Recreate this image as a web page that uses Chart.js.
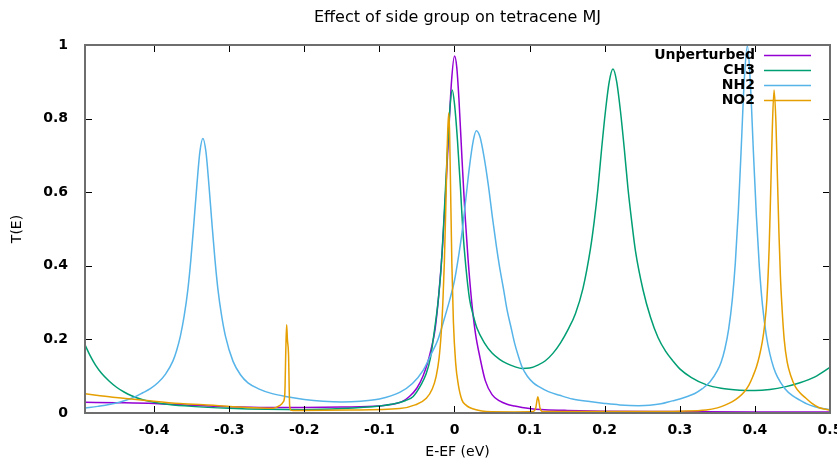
<!DOCTYPE html>
<html>
<head>
<meta charset="utf-8">
<title>Effect of side group on tetracene MJ</title>
<script src="https://cdn.jsdelivr.net/npm/chart.js@4.4.0/dist/chart.umd.min.js"></script>
<style>
  html, body { margin: 0; padding: 0; background: #ffffff; }
  #wrap { width: 837px; height: 459px; position: relative; }
</style>
</head>
<body>
<div id="wrap"><canvas id="chartTransmission"></canvas></div>
<script>
// ---- data (E - EF in eV, T(E)) ----
const seriesNames  = ['Unperturbed', 'CH3', 'NH2', 'NO2'];
const seriesColors = ['#9400d3', '#009e73', '#56b4e9', '#e69f00'];

const xTicks = [-0.4, -0.3, -0.2, -0.1, 0, 0.1, 0.2, 0.3, 0.4, 0.5];
const yTicks = [0, 0.2, 0.4, 0.6, 0.8, 1];

const unpertE = [-0.492, -0.45, -0.4, -0.35, -0.3, -0.25, -0.2, -0.15, -0.1, -0.085, -0.07, -0.06, -0.05, -0.042, -0.036, -0.031, -0.026, -0.021, -0.016, -0.012, -0.008, -0.004, 0, 0.003, 0.006, 0.01, 0.014, 0.018, 0.023, 0.028, 0.034, 0.041, 0.05, 0.06, 0.07, 0.08, 0.09, 0.105, 0.12, 0.15, 0.2, 0.3, 0.4, 0.5];
const unpertT = [0.029, 0.028, 0.026, 0.021, 0.017, 0.015, 0.015, 0.016, 0.019, 0.023, 0.031, 0.045, 0.068, 0.1, 0.135, 0.175, 0.225, 0.32, 0.45, 0.59, 0.75, 0.9, 0.97, 0.94, 0.85, 0.69, 0.54, 0.42, 0.3, 0.215, 0.15, 0.088, 0.05, 0.033, 0.024, 0.019, 0.015, 0.011, 0.009, 0.007, 0.005, 0.004, 0.003, 0.003];

const ch3E = [-0.492, -0.485, -0.478, -0.47, -0.46, -0.45, -0.44, -0.43, -0.415, -0.4, -0.38, -0.35, -0.3, -0.25, -0.2, -0.15, -0.1, -0.08, -0.065, -0.055, -0.045, -0.038, -0.032, -0.027, -0.022, -0.018, -0.014, -0.01, -0.006, -0.003, 0, 0.004, 0.008, 0.011, 0.015, 0.02, 0.025, 0.03, 0.04, 0.05, 0.06, 0.07, 0.08, 0.09, 0.1, 0.111, 0.121, 0.131, 0.141, 0.151, 0.161, 0.171, 0.181, 0.186, 0.191, 0.196, 0.201, 0.206, 0.211, 0.216, 0.221, 0.226, 0.231, 0.236, 0.241, 0.251, 0.261, 0.271, 0.281, 0.291, 0.3, 0.315, 0.335, 0.355, 0.38, 0.4, 0.42, 0.44, 0.46, 0.48, 0.5];
const ch3T = [0.185, 0.155, 0.13, 0.108, 0.087, 0.07, 0.057, 0.047, 0.036, 0.029, 0.023, 0.018, 0.013, 0.01, 0.009, 0.012, 0.019, 0.025, 0.034, 0.045, 0.075, 0.105, 0.15, 0.22, 0.3, 0.39, 0.53, 0.69, 0.83, 0.878, 0.84, 0.74, 0.61, 0.5, 0.4, 0.31, 0.265, 0.23, 0.19, 0.163, 0.146, 0.134, 0.126, 0.121, 0.122, 0.13, 0.142, 0.162, 0.19, 0.226, 0.27, 0.338, 0.446, 0.52, 0.61, 0.72, 0.82, 0.9, 0.935, 0.9, 0.82, 0.72, 0.61, 0.52, 0.44, 0.335, 0.26, 0.205, 0.168, 0.141, 0.12, 0.097, 0.077, 0.067, 0.062, 0.061, 0.064, 0.071, 0.082, 0.098, 0.124];

const nh2E = [-0.492, -0.475, -0.46, -0.445, -0.43, -0.415, -0.405, -0.395, -0.385, -0.375, -0.37, -0.365, -0.36, -0.355, -0.351, -0.347, -0.343, -0.339, -0.335, -0.331, -0.327, -0.323, -0.319, -0.315, -0.31, -0.305, -0.295, -0.285, -0.275, -0.26, -0.245, -0.225, -0.2, -0.175, -0.15, -0.125, -0.1, -0.073, -0.056, -0.042, -0.031, -0.022, -0.013, -0.006, 0, 0.005, 0.01, 0.015, 0.02, 0.025, 0.029, 0.034, 0.039, 0.045, 0.051, 0.056, 0.06, 0.065, 0.07, 0.075, 0.08, 0.085, 0.09, 0.097, 0.105, 0.113, 0.125, 0.14, 0.157, 0.18, 0.2, 0.22, 0.245, 0.26, 0.275, 0.29, 0.3, 0.31, 0.32, 0.33, 0.34, 0.35, 0.355, 0.36, 0.365, 0.37, 0.374, 0.378, 0.382, 0.386, 0.39, 0.394, 0.398, 0.402, 0.406, 0.41, 0.415, 0.42, 0.425, 0.43, 0.44, 0.45, 0.46, 0.47, 0.48, 0.49, 0.5];
const nh2T = [0.013, 0.018, 0.023, 0.03, 0.04, 0.055, 0.066, 0.082, 0.105, 0.141, 0.17, 0.209, 0.263, 0.336, 0.418, 0.516, 0.62, 0.71, 0.746, 0.71, 0.62, 0.516, 0.418, 0.336, 0.263, 0.209, 0.141, 0.104, 0.082, 0.065, 0.054, 0.045, 0.037, 0.032, 0.03, 0.032, 0.038, 0.056, 0.08, 0.115, 0.16, 0.2, 0.26, 0.31, 0.36, 0.42, 0.49, 0.58, 0.67, 0.74, 0.767, 0.75, 0.7, 0.62, 0.524, 0.45, 0.397, 0.34, 0.28, 0.235, 0.19, 0.155, 0.125, 0.1, 0.082, 0.071, 0.058, 0.048, 0.038, 0.031, 0.026, 0.022, 0.02, 0.021, 0.025, 0.033, 0.038, 0.045, 0.053, 0.066, 0.084, 0.115, 0.138, 0.174, 0.227, 0.31, 0.41, 0.55, 0.73, 0.91, 0.998, 0.895, 0.71, 0.535, 0.395, 0.295, 0.213, 0.16, 0.123, 0.098, 0.066, 0.047, 0.035, 0.024, 0.017, 0.012, 0.009];

const no2E = [-0.492, -0.455, -0.41, -0.366, -0.321, -0.277, -0.241, -0.233, -0.228, -0.226, -0.2245, -0.2235, -0.2225, -0.221, -0.2195, -0.218, -0.215, -0.206, -0.14, -0.073, -0.0525, -0.0375, -0.0295, -0.0245, -0.0205, -0.0175, -0.0155, -0.0135, -0.0115, -0.0095, -0.0085, -0.0075, -0.0065, -0.0055, -0.0035, -0.0015, 0.0015, 0.005, 0.01, 0.015, 0.02, 0.03, 0.042, 0.08, 0.105, 0.108, 0.111, 0.114, 0.117, 0.15, 0.25, 0.3, 0.335, 0.35, 0.361, 0.37, 0.379, 0.386, 0.392, 0.397, 0.402, 0.406, 0.41, 0.413, 0.416, 0.419, 0.421, 0.423, 0.4255, 0.428, 0.43, 0.432, 0.434, 0.436, 0.439, 0.443, 0.448, 0.454, 0.46, 0.468, 0.476, 0.485, 0.492, 0.5];
const no2T = [0.052, 0.043, 0.034, 0.026, 0.021, 0.015, 0.013, 0.02, 0.03, 0.05, 0.18, 0.24, 0.2, 0.16, 0.02, 0.008, 0.007, 0.007, 0.008, 0.012, 0.022, 0.04, 0.066, 0.099, 0.15, 0.223, 0.3, 0.41, 0.565, 0.735, 0.79, 0.815, 0.76, 0.645, 0.405, 0.25, 0.137, 0.078, 0.035, 0.022, 0.015, 0.008, 0.004, 0.003, 0.004, 0.012, 0.044, 0.012, 0.004, 0.004, 0.004, 0.005, 0.008, 0.014, 0.022, 0.031, 0.044, 0.058, 0.076, 0.098, 0.125, 0.155, 0.195, 0.24, 0.31, 0.45, 0.6, 0.76, 0.878, 0.79, 0.64, 0.49, 0.37, 0.29, 0.2, 0.138, 0.1, 0.071, 0.055, 0.04, 0.026, 0.015, 0.011, 0.008];

const toPoints = (xs, ys) => xs.map((x, i) => ({ x, y: ys[i] }));
const seriesData = [
    toPoints(unpertE, unpertT),
    toPoints(ch3E, ch3T),
    toPoints(nh2E, nh2T),
    toPoints(no2E, no2T)
];

// gnuplot style frame: border + inward ticks on all four sides
const framePlugin = {
    id: 'frame',
    afterDatasetsDraw(chart) {
        const { ctx, chartArea: a, scales } = chart;
        const len = 7;
        ctx.save();
        ctx.strokeStyle = '#000000';
        ctx.lineWidth = 1;
        ctx.beginPath();
        xTicks.forEach(v => {
            const px = Math.round(scales.x.getPixelForValue(v)) + 0.5;
            ctx.moveTo(px, a.bottom); ctx.lineTo(px, a.bottom - len);
            ctx.moveTo(px, a.top); ctx.lineTo(px, a.top + len);
        });
        yTicks.forEach(v => {
            const py = Math.round(scales.y.getPixelForValue(v)) + 0.5;
            ctx.moveTo(a.left, py); ctx.lineTo(a.left + len, py);
            ctx.moveTo(a.right, py); ctx.lineTo(a.right - len, py);
        });
        ctx.stroke();
        ctx.strokeStyle = '#6e6e6e';
        ctx.lineWidth = 2;
        ctx.strokeRect(a.left, a.top, a.right - a.left, a.bottom - a.top);
        ctx.restore();
    }
};

// key in the top right corner: text right aligned, sample line after it
const keyPlugin = {
    id: 'key',
    afterDatasetsDraw(chart) {
        const { ctx } = chart;
        ctx.save();
        ctx.font = 'bold 14px "DejaVu Sans"';
        ctx.textAlign = 'right';
        ctx.textBaseline = 'middle';
        chart.data.datasets.forEach((ds, i) => {
            const y = 55 + i * 15;
            ctx.fillStyle = '#000000';
            ctx.fillText(ds.label, 755, y);
            ctx.strokeStyle = ds.borderColor;
            ctx.lineWidth = 1.5;
            ctx.beginPath();
            ctx.moveTo(764, y + 0.5);
            ctx.lineTo(811, y + 0.5);
            ctx.stroke();
        });
        ctx.restore();
    }
};

Chart.defaults.font.family = '"DejaVu Sans", sans-serif';
Chart.defaults.color = '#000000';

new Chart(document.getElementById('chartTransmission'), {
    type: 'line',
    data: {
        datasets: seriesData.map((pts, i) => ({
            label: seriesNames[i],
            data: pts,
            borderColor: seriesColors[i],
            backgroundColor: seriesColors[i],
            borderWidth: 1.5,
            pointRadius: 0,
            fill: false,
            cubicInterpolationMode: 'monotone',
            order: seriesNames.length - i
        }))
    },
    options: {
        responsive: true,
        maintainAspectRatio: false,
        animation: false,
        layout: { padding: { top: 0, right: 7, bottom: 0, left: 0 } },
        plugins: {
            legend: { display: false },
            tooltip: { enabled: false },
            title: {
                display: true,
                text: 'Effect of side group on tetracene MJ',
                fullSize: false,
                color: '#000000',
                font: { size: 16, weight: 'normal', lineHeight: 1.2 },
                padding: { top: 8, bottom: 17.8 }
            }
        },
        scales: {
            x: {
                type: 'linear',
                min: -0.492,
                max: 0.5,
                grid: { display: false },
                border: { display: false },
                afterBuildTicks: s => { s.ticks = xTicks.map(v => ({ value: v })); },
                afterFit: s => { s.height = 46; s.paddingLeft = 0; s.paddingRight = 0; },
                ticks: {
                    padding: 1,
                    maxRotation: 0,
                    color: '#000000',
                    font: { size: 14, weight: 'bold' },
                    callback: v => String(+v.toFixed(1))
                },
                title: {
                    display: true,
                    text: 'E-EF (eV)',
                    color: '#000000',
                    font: { size: 14, weight: 'normal', lineHeight: 1 },
                    padding: { top: 0, bottom: 0 }
                }
            },
            y: {
                min: 0,
                max: 1,
                grid: { display: false },
                border: { display: false },
                afterBuildTicks: s => { s.ticks = yTicks.map(v => ({ value: v })); },
                afterFit: s => { s.width = 85; s.paddingTop = 0; s.paddingBottom = 0; },
                ticks: {
                    padding: 9,
                    color: '#000000',
                    font: { size: 14, weight: 'bold' },
                    callback: v => String(+v.toFixed(1))
                },
                title: {
                    display: true,
                    text: 'T(E)',
                    color: '#000000',
                    font: { size: 14, weight: 'normal', lineHeight: 1.2 },
                    padding: { top: 9, bottom: 0 }
                }
            }
        }
    },
    plugins: [framePlugin, keyPlugin]
});
</script>
</body>
</html>
